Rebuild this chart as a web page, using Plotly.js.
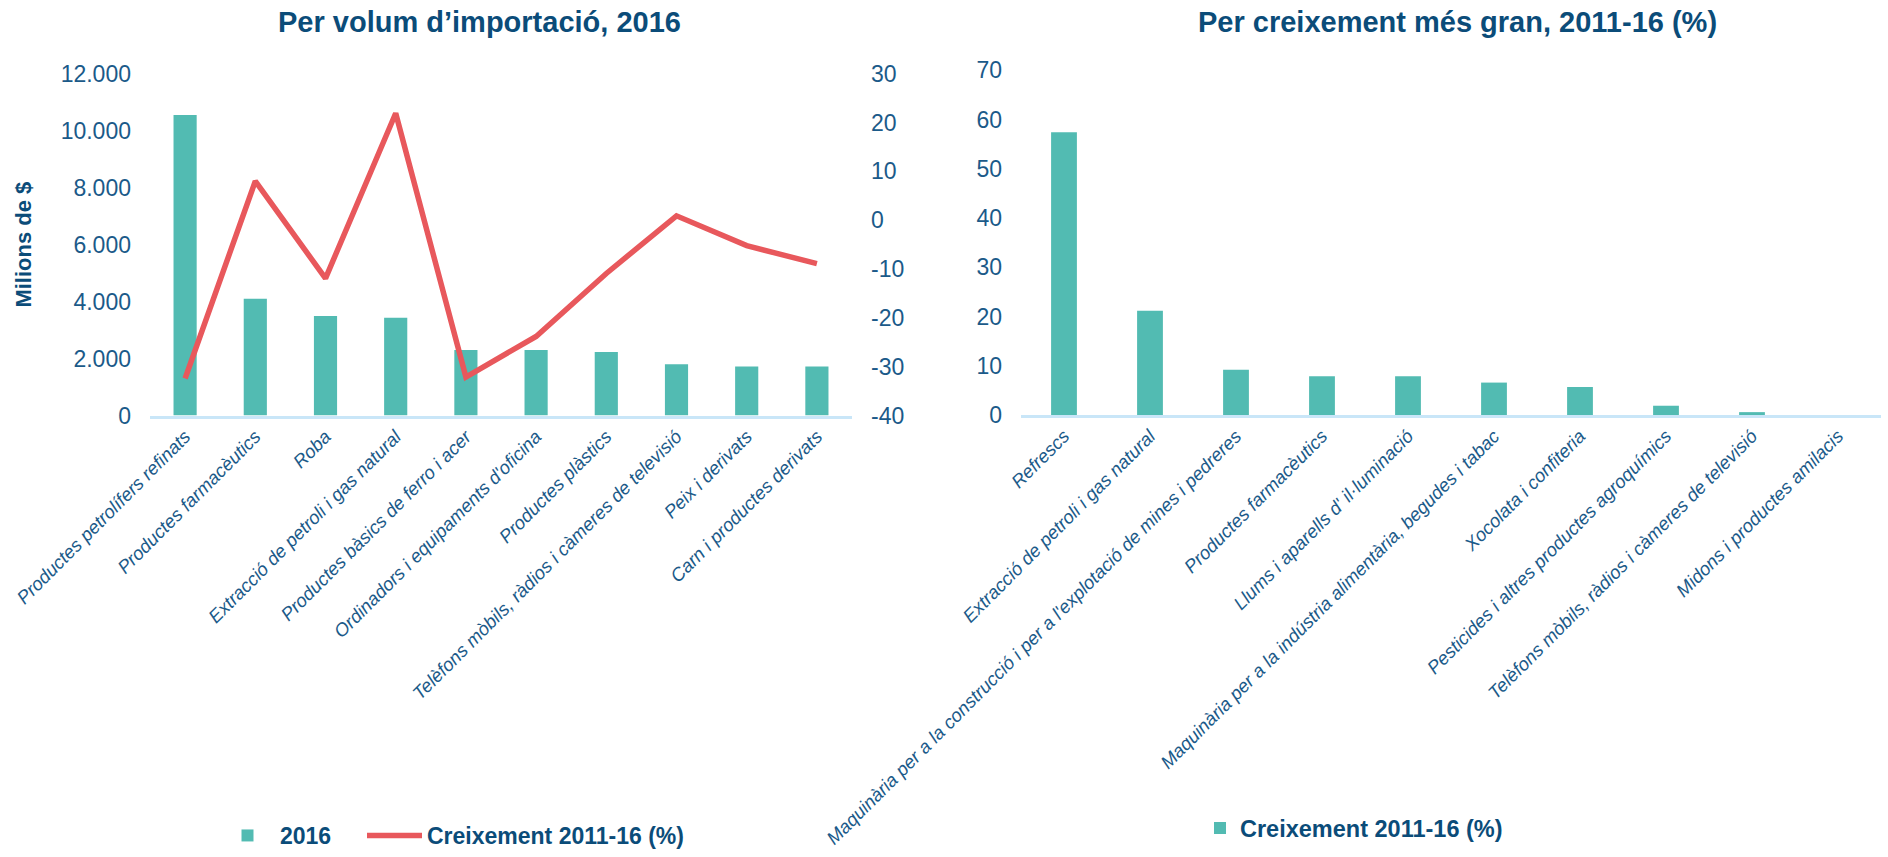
<!DOCTYPE html>
<html><head><meta charset="utf-8">
<script src="https://cdn.plot.ly/plotly-3.0.1.min.js"></script>
<style>html,body{margin:0;padding:0;background:#fff}#chart{width:1888px;height:857px}</style>
</head><body><div id="chart"></div>
<script>
// ---- Data ----
const volumeCategories = [
  "Productes petrolífers refinats",
  "Productes farmacèutics",
  "Roba",
  "Extracció de petroli i gas natural",
  "Productes bàsics de ferro i acer",
  "Ordinadors i equipaments d'oficina",
  "Productes plàstics",
  "Telèfons mòbils, ràdios i càmeres de televisió",
  "Peix i derivats",
  "Carn i productes derivats"
];
const volume2016 = [10550, 4100, 3500, 3430, 2300, 2300, 2230, 1800, 1720, 1720];
const volumeGrowth = [-32.4, 8.0, -11.9, 21.9, -32.1, -23.8, -10.9, 0.9, -5.2, -8.9];

const growthCategories = [
  "Refrescs",
  "Extracció de petroli i gas natural",
  "Maquinària per a la construcció i per a l'explotació de mines i pedreres",
  "Productes farmacèutics",
  "Llums i aparells d' il·luminació",
  "Maquinària per a la indústria alimentària, begudes i tabac",
  "Xocolata i confiteria",
  "Pesticides i altres productes agroquímics",
  "Telèfons mòbils, ràdios i càmeres de televisió",
  "Midons i productes amilacis"
];
const growthValues = [57.4, 21.2, 9.2, 7.9, 7.9, 6.6, 5.7, 1.9, 0.6, 0];

const volumeTickVals = [0, 2000, 4000, 6000, 8000, 10000, 12000];
const growthAxisTickVals = [-40, -30, -20, -10, 0, 10, 20, 30];
const growthAxisTickText = ["-40", "-30", "-20", "-10", "0", "10", "20", "30"];
const growthTickVals = [0, 10, 20, 30, 40, 50, 60, 70];

// ---- Style ----
const FONT = "Liberation Sans, Arial, sans-serif";
const TEAL = "#52bbb2";
const RED = "#e8585c";
const DARK = "#0b4c79";
const TICK = "#1b5a89";
const AXISLINE = "#c9e6f8";

const traces = [
  {type: "bar", x: volumeCategories, y: volume2016, name: "2016",
   xaxis: "x", yaxis: "y", width: 0.33, marker: {color: TEAL}, legend: "legend",
   legendwidth: 77},
  {type: "scatter", mode: "lines", x: volumeCategories, y: volumeGrowth,
   name: "Creixement 2011-16 (%)", xaxis: "x", yaxis: "y2",
   line: {color: RED, width: 5.5}, legend: "legend"},
  {type: "bar", x: growthCategories, y: growthValues, name: "Creixement 2011-16 (%)",
   xaxis: "x2", yaxis: "y3", width: 0.3, marker: {color: TEAL}, legend: "legend2"}
];

const catTickFont = {family: FONT, size: 18.5, color: TICK, style: "italic"};
const numTickFont = {family: FONT, size: 23, color: TICK};

const layout = {
  width: 1888, height: 857,
  margin: {l: 0, r: 0, t: 0, b: 0},
  paper_bgcolor: "#ffffff", plot_bgcolor: "#ffffff",
  separators: ",.",
  showlegend: true,
  font: {family: FONT, color: DARK},
  xaxis: {
    domain: [150/1888, 852/1888], anchor: "y", type: "category",
    showline: true, linecolor: AXISLINE, linewidth: 3,
    showgrid: false, zeroline: false, ticks: "", tickangle: -45,
    tickfont: catTickFont, automargin: false
  },
  yaxis: {
    domain: [(857-420)/857, (857-74.5)/857], anchor: "x",
    range: [0, 12000], tickvals: volumeTickVals, tickformat: ",d",
    showgrid: false, zeroline: false, showline: false, ticks: "",
    tickfont: numTickFont, ticklabelstandoff: 18, automargin: false,
    title: {text: "Milions de $", font: {family: FONT, size: 22, color: DARK, weight: "bold"}, standoff: 22}
  },
  yaxis2: {
    overlaying: "y", side: "right", anchor: "x",
    range: [-40, 30], tickvals: growthAxisTickVals, ticktext: growthAxisTickText,
    showgrid: false, zeroline: false, showline: false, ticks: "",
    tickfont: numTickFont, ticklabelstandoff: 18, automargin: false
  },
  xaxis2: {
    domain: [1021/1888, 1881/1888], anchor: "y3", type: "category",
    showline: true, linecolor: AXISLINE, linewidth: 3,
    showgrid: false, zeroline: false, ticks: "", tickangle: -45,
    tickfont: catTickFont, automargin: false
  },
  yaxis3: {
    domain: [(857-419.5)/857, (857-71)/857], anchor: "x2",
    range: [0, 70], tickvals: growthTickVals,
    showgrid: false, zeroline: false, showline: false, ticks: "",
    tickfont: numTickFont, ticklabelstandoff: 18, automargin: false
  },
  legend: {
    orientation: "h", x: 215/1888, xanchor: "left", y: (857-844.5)/857, yanchor: "middle",
    font: {family: FONT, size: 23, color: DARK, weight: "bold"},
    bgcolor: "rgba(0,0,0,0)", traceorder: "normal", itemwidth: 55
  },
  legend2: {
    orientation: "h", x: 1200/1888, xanchor: "left", y: (857-837)/857, yanchor: "middle",
    font: {family: FONT, size: 23.5, color: DARK, weight: "bold"},
    bgcolor: "rgba(0,0,0,0)"
  },
  annotations: [
    {text: "Per volum d’importació, 2016", xref: "paper", yref: "paper",
     x: 479/1888, y: (857-22)/857, xanchor: "center", yanchor: "middle", showarrow: false,
     font: {family: FONT, size: 29, color: DARK, weight: "bold"}},
    {text: "Per creixement més gran, 2011-16 (%)", xref: "paper", yref: "paper",
     x: 1457/1888, y: (857-22)/857, xanchor: "center", yanchor: "middle", showarrow: false,
     font: {family: FONT, size: 29, color: DARK, weight: "bold"}}
  ]
};

Plotly.newPlot("chart", traces, layout, {displayModeBar: false, responsive: false});
</script>
</body></html>
